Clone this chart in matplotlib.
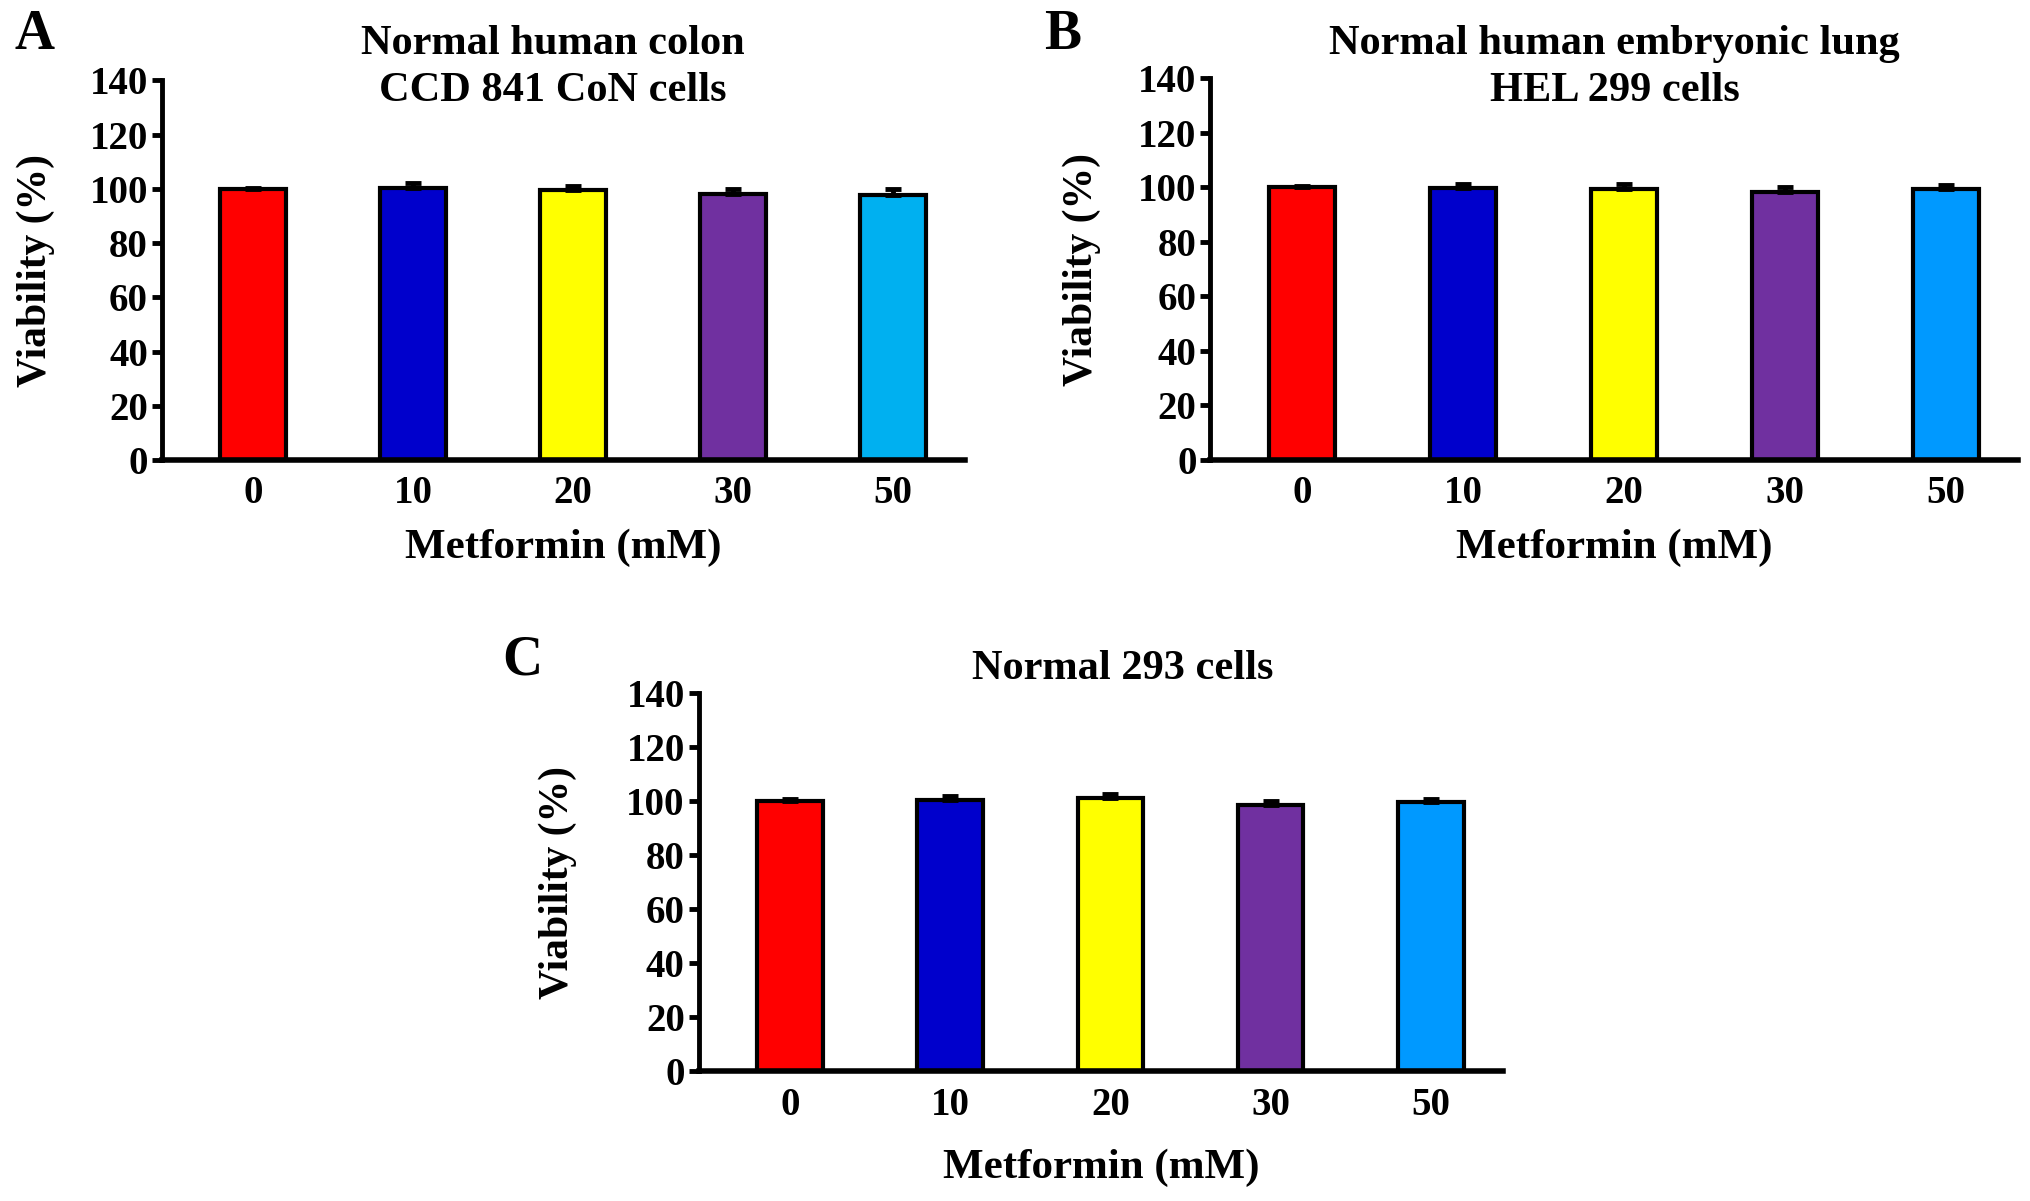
import matplotlib.pyplot as plt
import numpy as np

plt.rcParams["font.family"] = ["Liberation Serif", "DejaVu Serif"]
plt.rcParams["font.weight"] = "bold"

doses = ["0", "10", "20", "30", "50"]

# viability (%) and error
colon_vals = [100.0, 100.3, 99.5, 98.3, 97.9]
colon_err = [0.5, 2.0, 1.7, 1.7, 2.0]
lung_vals = [100.1, 99.6, 99.3, 98.4, 99.3]
lung_err = [0.5, 1.5, 2.0, 1.5, 1.5]
k293_vals = [100.0, 100.3, 101.0, 98.6, 99.6]
k293_err = [0.6, 1.6, 1.8, 1.6, 1.2]

colors_a = ["#FF0000", "#0000CC", "#FFFF00", "#7030A0", "#00B0F0"]
colors_bc = ["#FF0000", "#0000CC", "#FFFF00", "#7030A0", "#0099FF"]

fig = plt.figure(figsize=(20.31, 12.01), dpi=100)

axA = fig.add_axes([0.0797, 0.617, 0.3953, 0.316])
axB = fig.add_axes([0.596, 0.617, 0.3976, 0.318])
axC = fig.add_axes([0.344, 0.108, 0.396, 0.315])


def draw_panel(ax, vals, err, colors, ylab_x, xlab_y):
    x = np.arange(len(doses))
    ax.bar(x, vals, width=0.41, color=colors, edgecolor="black", linewidth=3, zorder=2)
    ax.errorbar(x, vals, yerr=[np.zeros(len(err)), err], fmt="none", ecolor="black",
                elinewidth=3.5, capsize=6, capthick=3.5, zorder=3)
    ax.set_xlim(-0.57, 4.45)
    ax.set_ylim(0, 140)
    ax.set_yticks(range(0, 141, 20))
    ax.set_xticks(x)
    ax.set_xticklabels(doses)
    for side in ["top", "right"]:
        ax.spines[side].set_visible(False)
    ax.spines["left"].set_linewidth(3.5)
    ax.spines["bottom"].set_linewidth(4)
    ax.tick_params(axis="y", length=7, width=3.5, labelsize=28, pad=3)
    ax.tick_params(axis="x", length=0, labelsize=28, pad=11)
    ax.set_ylabel("Viability (%)", fontsize=30, fontweight="bold")
    ax.set_xlabel("Metformin (mM)", fontsize=31, fontweight="bold")
    ax.yaxis.set_label_coords(ylab_x, 0.5)
    ax.xaxis.set_label_coords(0.5, xlab_y)


draw_panel(axA, colon_vals, colon_err, colors_a, -0.133, -0.18)
draw_panel(axB, lung_vals, lung_err, colors_bc, -0.136, -0.18)
draw_panel(axC, k293_vals, k293_err, colors_bc, -0.151, -0.205)

fig.text(0.272, 0.944, "Normal human colon\nCCD 841 CoN cells", ha="center", va="center",
         fontsize=30.5, fontweight="bold", linespacing=1.3)
fig.text(0.795, 0.944, "Normal human embryonic lung\nHEL 299 cells", ha="center", va="center",
         fontsize=30.5, fontweight="bold", linespacing=1.3)
fig.text(0.553, 0.443, "Normal 293 cells", ha="center", va="center",
         fontsize=30.5, fontweight="bold")

fig.text(0.017, 0.971, "A", ha="center", va="center", fontsize=40, fontweight="bold")
fig.text(0.523, 0.971, "B", ha="center", va="center", fontsize=40, fontweight="bold")
fig.text(0.257, 0.450, "C", ha="center", va="center", fontsize=40, fontweight="bold")

fig.savefig("out.png", dpi=100)
